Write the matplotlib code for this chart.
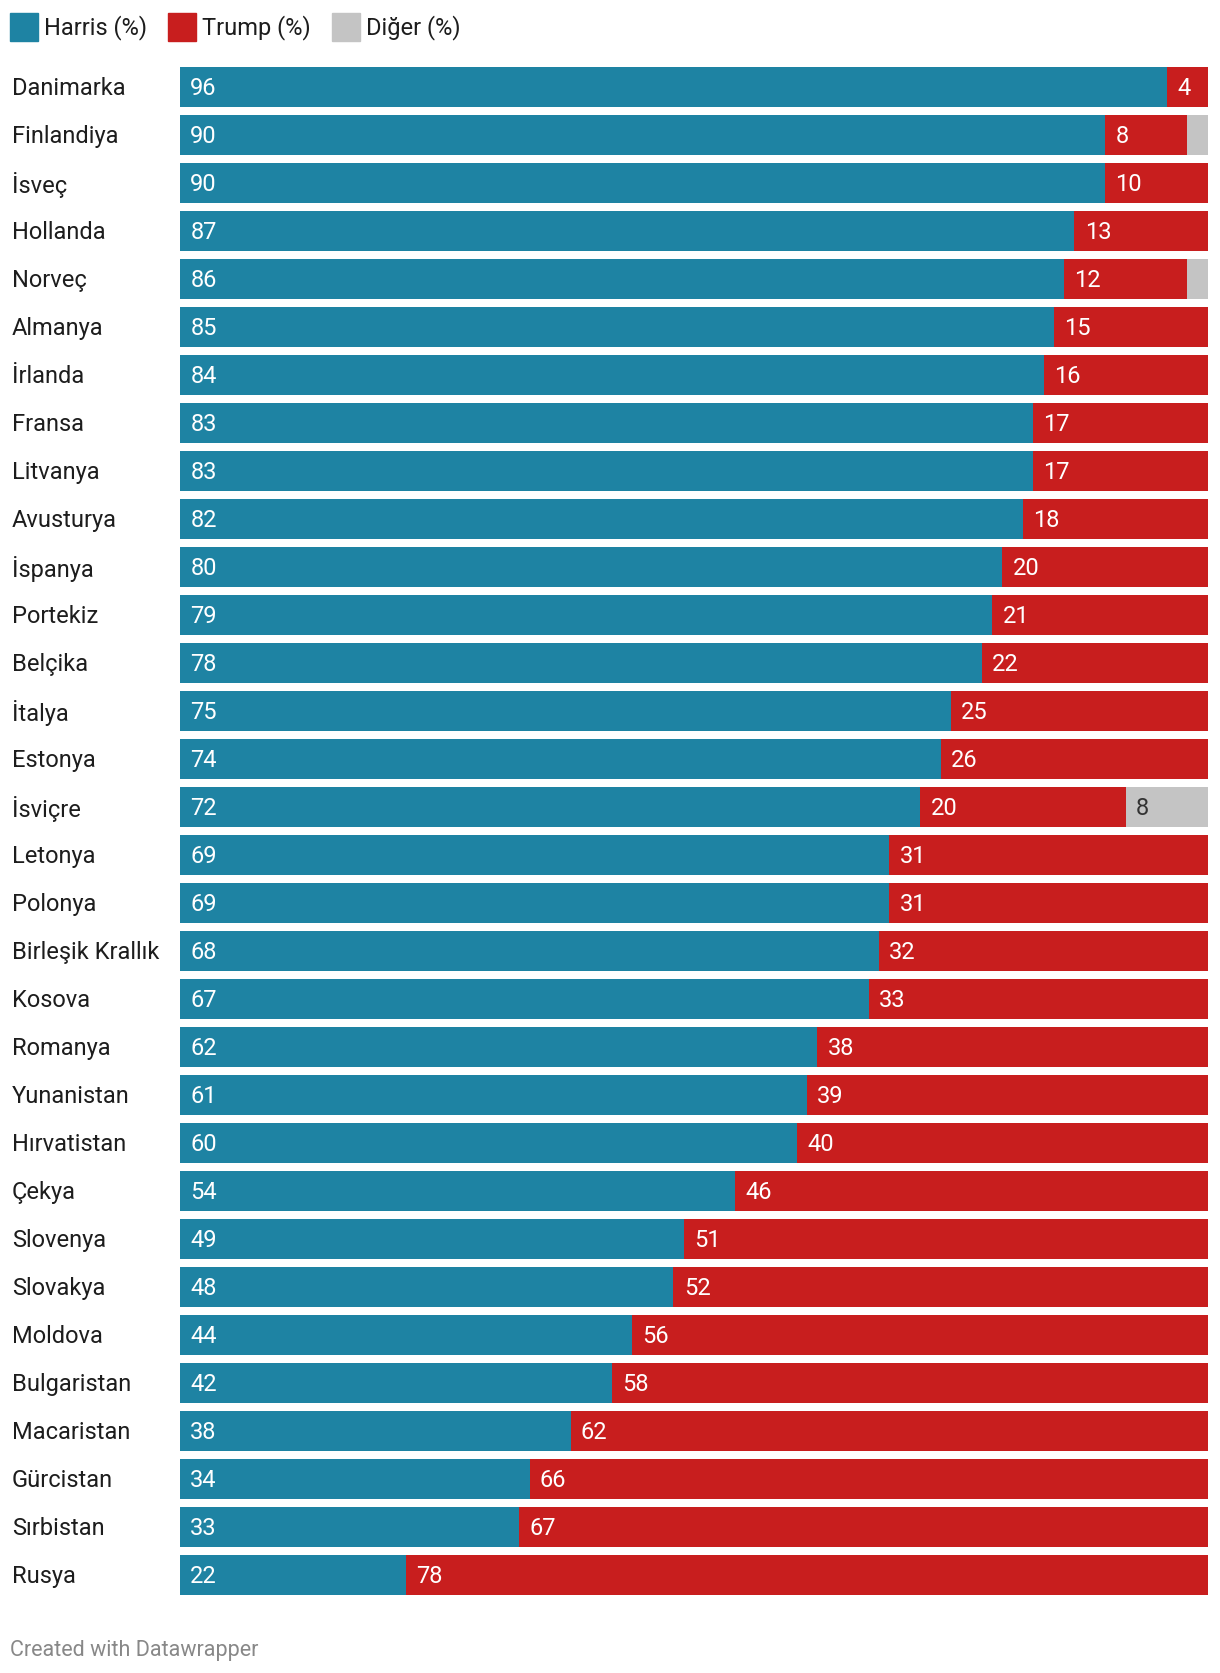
import matplotlib
matplotlib.use("Agg")
import matplotlib.pyplot as plt
import matplotlib.patches as mpatches
from matplotlib.transforms import blended_transform_factory

plt.rcParams['font.family'] = ['Roboto', 'DejaVu Sans']

# veriler
ulkeler = ["Danimarka", "Finlandiya", "İsveç", "Hollanda", "Norveç", "Almanya",
           "İrlanda", "Fransa", "Litvanya", "Avusturya", "İspanya", "Portekiz",
           "Belçika", "İtalya", "Estonya", "İsviçre", "Letonya", "Polonya",
           "Birleşik Krallık", "Kosova", "Romanya", "Yunanistan", "Hırvatistan",
           "Çekya", "Slovenya", "Slovakya", "Moldova", "Bulgaristan",
           "Macaristan", "Gürcistan", "Sırbistan", "Rusya"]
harris = [96, 90, 90, 87, 86, 85, 84, 83, 83, 82, 80, 79, 78, 75, 74, 72,
          69, 69, 68, 67, 62, 61, 60, 54, 49, 48, 44, 42, 38, 34, 33, 22]
trump = [4, 8, 10, 13, 12, 15, 16, 17, 17, 18, 20, 21, 22, 25, 26, 20,
         31, 31, 32, 33, 38, 39, 40, 46, 51, 52, 56, 58, 62, 66, 67, 78]
diger = [0, 2, 0, 0, 2, 0, 0, 0, 0, 0, 0, 0, 0, 0, 0, 8,
         0, 0, 0, 0, 0, 0, 0, 0, 0, 0, 0, 0, 0, 0, 0, 0]
seriler = ["Harris (%)", "Trump (%)", "Diğer (%)"]

MAVI = "#1e83a3"
KIRMIZI = "#c81e1e"
GRI = "#c4c4c4"

W, H = 1220, 1674
fig = plt.figure(figsize=(W / 100, H / 100), dpi=100)

# eksen konumu (piksel)
sol, sag, ust, alt = 180, 1208, 64, 1600
ax = fig.add_axes([sol / W, 1 - alt / H, (sag - sol) / W, (alt - ust) / H])

y = list(range(len(ulkeler)))
sol_trump = [h for h in harris]
sol_diger = [h + t for h, t in zip(harris, trump)]

ax.barh(y, harris, height=40 / 48, color=MAVI)
ax.barh(y, trump, left=sol_trump, height=40 / 48, color=KIRMIZI)
ax.barh(y, diger, left=sol_diger, height=40 / 48, color=GRI)

ax.set_xlim(0, 100)
ax.set_ylim(len(ulkeler) - 0.5, -0.5)
ax.axis("off")

fs = 17
dy = -0.04  # yazıyı biraz yukarı al
for i in y:
    ax.text(1.0, i + dy, str(harris[i]), color="white", fontsize=fs, va="center_baseline")
    ax.text(sol_trump[i] + 1.0, i + dy, str(trump[i]), color="white", fontsize=fs,
            va="center_baseline")
    if diger[i] >= 5:
        ax.text(sol_diger[i] + 1.0, i + dy, str(diger[i]), color="#333333", fontsize=fs,
                va="center_baseline")

# ülke isimleri
tr = blended_transform_factory(fig.transFigure, ax.transData)
for i, u in enumerate(ulkeler):
    ax.text(12 / W, i + dy, u, transform=tr, fontsize=fs, va="center_baseline", color="#1d1d1d")

# lejant
renkler = [MAVI, KIRMIZI, GRI]
kutu_x = [10, 168, 332]
for r, kx, s in zip(renkler, kutu_x, seriler):
    fig.patches.append(mpatches.Rectangle((kx / W, 1 - 42 / H), 28 / W, 28 / H,
                                          transform=fig.transFigure, color=r))
    fig.text((kx + 34) / W, 1 - 25 / H, s, fontsize=fs, va="center_baseline", color="#1d1d1d")

fig.text(10 / W, 1 - 1648 / H, "Created with Datawrapper", fontsize=15.5,
         va="center_baseline", color="#888888")

fig.savefig("out.png", dpi=100, facecolor="white")
